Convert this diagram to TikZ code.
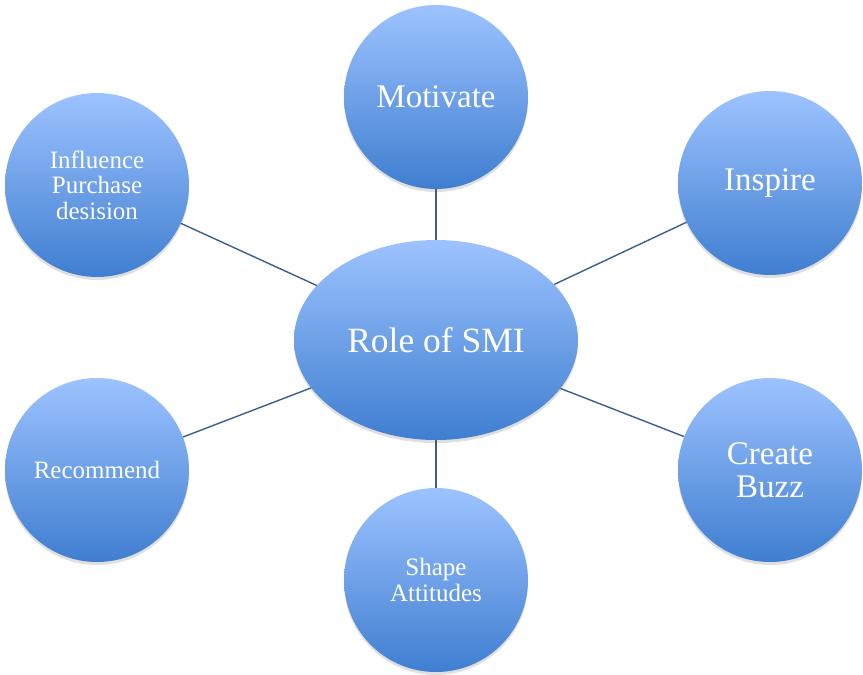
\documentclass[tikz,border=0pt]{standalone}
\usepackage{fontspec}
\setmainfont{Liberation Serif}
\usepackage{xcolor}
\usepackage{tikz}
\usetikzlibrary{shapes.geometric, shadows, positioning}
\definecolor{smitop}{HTML}{9DC3FF}
\definecolor{smibottom}{HTML}{3F7ED0}
\definecolor{smiline}{HTML}{3A5E8E}

\begin{document}
\begin{tikzpicture}[x=1pt, y=-1pt,
    bubble/.style={circle, minimum size=184pt, inner sep=0pt, align=center, text=white,
        top color=smitop, bottom color=smibottom, draw=none,
        drop shadow={shadow xshift=0pt, shadow yshift=-3pt, opacity=0.25}},
    hub/.style={ellipse, minimum width=284pt, minimum height=200pt, inner sep=0pt, text=white,
        top color=smitop, bottom color=smibottom, draw=none,
        drop shadow={shadow xshift=0pt, shadow yshift=-3pt, opacity=0.25}},
    big/.style={font=\fontsize{33}{33}\selectfont},
    small/.style={font=\fontsize{25}{25.5}\selectfont},
    spoke/.style={draw=smiline, line width=1.4pt},
]
\useasboundingbox (0,0) rectangle (863,675);

\node[hub, font=\fontsize{35.5}{38}\selectfont] (smi) at (436,340) {Role of SMI};

\node[bubble, big] (motivate) at (436,97) {Motivate};
\node[bubble, big] (inspire) at (770,183) {Inspire};
\node[bubble, big] (buzz) at (770,470) {Create\\Buzz};
\node[bubble, small] (shape) at (436,580) {Shape\\Attitudes};
\node[bubble, small] (recommend) at (97,470) {Recommend};
\node[bubble, small] (influence) at (97,185) {Influence\\Purchase\\desision};

\foreach \n in {motivate, inspire, buzz, shape, recommend, influence}
    \draw[spoke] (smi) -- (\n);
\end{tikzpicture}
\end{document}
